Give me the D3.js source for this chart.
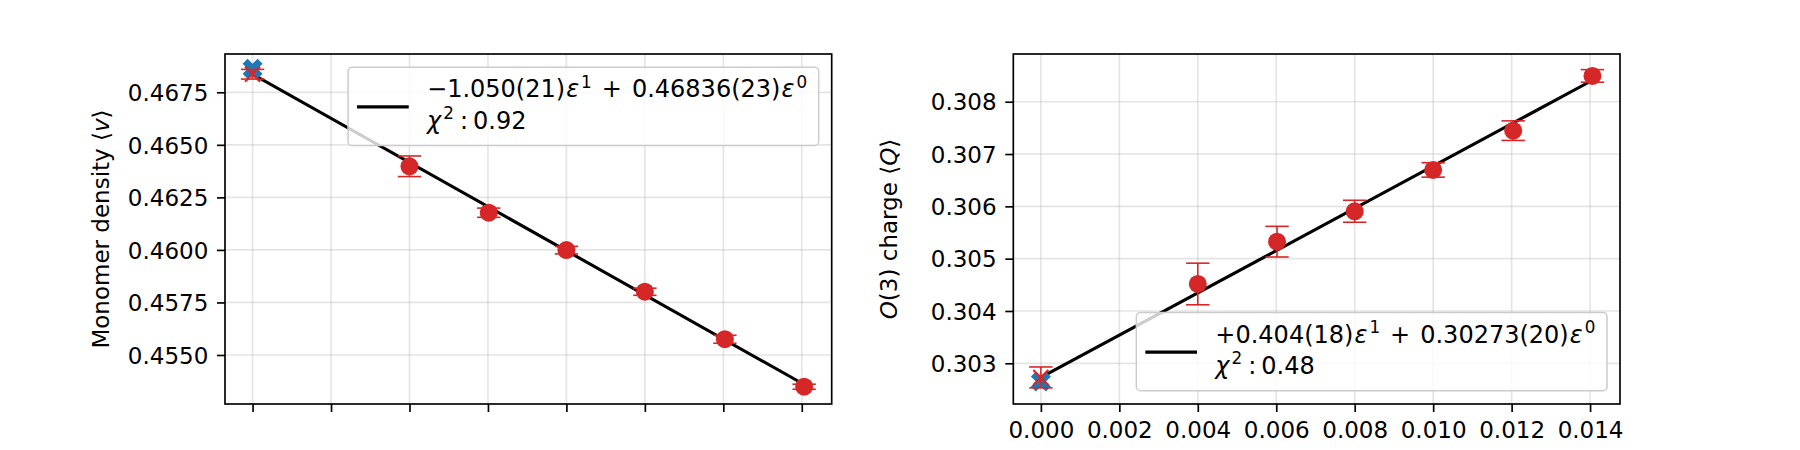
<!DOCTYPE html>
<html>
<head>
<meta charset="utf-8">
<script src="https://cdn.jsdelivr.net/npm/d3@7"></script>
<style>
  body { margin: 0; background: #fff; }
  text { font-family: "DejaVu Sans", sans-serif; }
</style>
</head>
<body>
<svg id="chart" width="1800" height="450"></svg>
<script>
// shared x values (epsilon = 1/L)
const eps = [0.004, 0.00602, 0.008, 0.010, 0.01204, 0.01406];
const xTicks = [0, 0.002, 0.004, 0.006, 0.008, 0.010, 0.012, 0.014];

// left panel: monomer density
const densityValues = [0.46398, 0.46177, 0.45999, 0.45801, 0.45575, 0.45349];
const densityErrors = [0.00049, 0.00022, 0.00018, 0.00017, 0.00019, 0.00012];
const densityExtrap = [0.46836, 0.00023];
const densityReference = 0.46862;
const densityFit = [-1.050, 0.46836];
const densityTicks = [0.4550, 0.4575, 0.4600, 0.4625, 0.4650, 0.4675];
const densityDomain = [0.452668, 0.469322];
const densityLegend = ['\u22121.050(21)', '0.46836(23)', '0.92'];

// right panel: O(3) charge
const chargeValues = [0.304516, 0.305325, 0.305906, 0.306696, 0.307447, 0.308493];
const chargeErrors = [0.000398, 0.000293, 0.00021, 0.000138, 0.000187, 0.00012];
const chargeExtrap = [0.30273, 0.00020];
const chargeReference = 0.30265;
const chargeFit = [0.404, 0.30273];
const chargeTicks = [0.303, 0.304, 0.305, 0.306, 0.307, 0.308];
const chargeDomain = [0.302222, 0.308912];
const chargeLegend = ['+0.404(18)', '0.30273(20)', '0.48'];

const red = '#d62728', blue = '#1f77b4';
const fs = 23, legendFs = 24;
const svg = d3.select('#chart');

const xMax = d3.max(eps);
const xPad = xMax * 0.05;
const xDomain = [-xPad, xMax + xPad];

function panel(o) {
    const x = d3.scaleLinear().domain(xDomain).range([o.left, o.right]);
    const y = d3.scaleLinear().domain(o.domain).range([o.bottom, o.top]);
    const g = svg.append('g');

    // grid
    g.append('g').selectAll('line').data(xTicks).join('line')
        .attr('x1', d => x(d)).attr('x2', d => x(d))
        .attr('y1', o.top).attr('y2', o.bottom)
        .attr('stroke', '#b0b0b0').attr('stroke-opacity', 0.33).attr('stroke-width', 1.67);
    g.append('g').selectAll('line').data(o.ticks).join('line')
        .attr('x1', o.left).attr('x2', o.right)
        .attr('y1', d => y(d)).attr('y2', d => y(d))
        .attr('stroke', '#b0b0b0').attr('stroke-opacity', 0.33).attr('stroke-width', 1.67);

    // fit line
    const fitX = [0, xMax];
    g.append('path')
        .attr('d', d3.line().x(d => x(d)).y(d => y(o.fit[0] * d + o.fit[1]))(fitX))
        .attr('stroke', '#000').attr('stroke-width', 3.1).attr('fill', 'none');

    // reference value at eps = 0 (filled X)
    g.append('path')
        .attr('d', d3.symbol(d3.symbolCross, 250)())
        .attr('transform', `translate(${x(0)},${y(o.reference)}) rotate(45)`)
        .attr('fill', blue);

    // error bars
    const pts = eps.map((e, i) => ({ x: e, y: o.values[i], err: o.errors[i] }));
    pts.push({ x: 0, y: o.extrap[0], err: o.extrap[1] });
    const cap = 11.7;
    const eb = g.append('g').attr('stroke', red).attr('stroke-width', 1.6);
    pts.forEach(p => {
        const cx = x(p.x), y0 = y(p.y - p.err), y1 = y(p.y + p.err);
        eb.append('line').attr('x1', cx).attr('x2', cx).attr('y1', y0).attr('y2', y1);
        eb.append('line').attr('x1', cx - cap).attr('x2', cx + cap).attr('y1', y0).attr('y2', y0);
        eb.append('line').attr('x1', cx - cap).attr('x2', cx + cap).attr('y1', y1).attr('y2', y1);
    });

    // data markers
    g.append('g').selectAll('circle').data(pts.slice(0, eps.length)).join('circle')
        .attr('cx', d => x(d.x)).attr('cy', d => y(d.y)).attr('r', 9)
        .attr('fill', red);

    // extrapolated value marker (x)
    const ex = x(0), ey = y(o.extrap[0]), s = 7.5;
    g.append('path')
        .attr('d', `M${ex - s},${ey - s}L${ex + s},${ey + s}M${ex - s},${ey + s}L${ex + s},${ey - s}`)
        .attr('stroke', red).attr('stroke-width', 2.2).attr('fill', 'none');

    // axes
    const xa = g.append('g').attr('transform', `translate(0,${o.bottom})`)
        .call(d3.axisBottom(x).tickValues(xTicks).tickSize(8).tickPadding(8)
            .tickFormat(o.showX ? d3.format('.3f') : ''));
    const ya = g.append('g').attr('transform', `translate(${o.left},0)`)
        .call(d3.axisLeft(y).tickValues(o.ticks).tickSize(8).tickPadding(8.7)
            .tickFormat(d3.format(o.yFormat)));
    [xa, ya].forEach(a => {
        a.select('.domain').remove();
        a.selectAll('.tick line').attr('stroke', '#000').attr('stroke-width', 1.67);
        a.selectAll('.tick text').attr('fill', '#000').attr('font-size', fs)
            .attr('font-family', '"DejaVu Sans", sans-serif');
    });
    xa.selectAll('.tick text').attr('y', 33.5).attr('dy', 0);
    ya.selectAll('.tick text').attr('dy', '0.36em');

    // spines
    g.append('rect')
        .attr('x', o.left).attr('y', o.top)
        .attr('width', o.right - o.left).attr('height', o.bottom - o.top)
        .attr('fill', 'none').attr('stroke', '#000').attr('stroke-width', 1.67);

    // y label
    const lab = g.append('text')
        .attr('transform', `translate(${o.left - 116},${(o.top + o.bottom) / 2}) rotate(-90)`)
        .attr('text-anchor', 'middle').attr('font-size', fs).attr('fill', '#000');
    o.label.forEach(part => {
        lab.append('tspan').attr('font-style', part[1] ? 'italic' : 'normal').text(part[0]);
    });

    // legend
    const lg = g.append('g');
    const box = lg.append('rect');
    const t = lg.append('g');
    const sup = legendFs * 0.7, rise = 9.5;
    const l1 = t.append('text').attr('x', 79).attr('y', 30).attr('font-size', legendFs).attr('fill', '#000');
    l1.append('tspan').text(o.legend[0]);
    l1.append('tspan').attr('font-style', 'italic').attr('dx', 1).text('\u03b5');
    l1.append('tspan').attr('font-size', sup).attr('dx', 2).attr('dy', -rise).text('1');
    l1.append('tspan').attr('dx', 10).attr('dy', rise).text('+');
    l1.append('tspan').attr('dx', 10).text(o.legend[1]);
    l1.append('tspan').attr('font-style', 'italic').attr('dx', 1).text('\u03b5');
    l1.append('tspan').attr('font-size', sup).attr('dx', 2).attr('dy', -rise).text('0');
    const l2 = t.append('text').attr('x', 79).attr('y', 61.4).attr('font-size', legendFs).attr('fill', '#000');
    l2.append('tspan').attr('font-style', 'italic').text('\u03c7');
    l2.append('tspan').attr('font-size', sup).attr('dx', 2).attr('dy', -rise).text('2');
    l2.append('tspan').attr('dx', 6).attr('dy', rise).text(':');
    l2.append('tspan').attr('dx', 5).text(o.legend[2]);
    const tw = Math.max(l1.node().getBBox().width, l2.node().getBBox().width);
    const bw = 79 + tw + 11.6, bh = 78.2;
    box.attr('x', 0).attr('y', 0).attr('width', bw).attr('height', bh).attr('rx', 4)
        .attr('fill', '#fff').attr('fill-opacity', 0.8)
        .attr('stroke', '#cccccc').attr('stroke-width', 1.5);
    lg.append('line').attr('x1', 9).attr('x2', 60.7).attr('y1', 39.6).attr('y2', 39.6)
        .attr('stroke', '#000').attr('stroke-width', 3.1);
    const lx = o.right - 13 - bw;
    const ly = o.legendPos === 'upper' ? o.top + 13.3 : o.bottom - 13.3 - bh;
    lg.attr('transform', `translate(${lx},${ly})`);
}

panel({
    left: 225, right: 831.7, top: 54, bottom: 404,
    domain: densityDomain, ticks: densityTicks, yFormat: '.4f',
    values: densityValues, errors: densityErrors, extrap: densityExtrap,
    reference: densityReference, fit: densityFit, legend: densityLegend,
    legendPos: 'upper', showX: false,
    label: [['Monomer density \u27e8', false], ['v', true], ['\u27e9', false]]
});

panel({
    left: 1013.3, right: 1620, top: 54, bottom: 404,
    domain: chargeDomain, ticks: chargeTicks, yFormat: '.3f',
    values: chargeValues, errors: chargeErrors, extrap: chargeExtrap,
    reference: chargeReference, fit: chargeFit, legend: chargeLegend,
    legendPos: 'lower', showX: true,
    label: [['O', true], ['(3) charge \u27e8', false], ['Q', true], ['\u27e9', false]]
});
</script>
</body>
</html>
